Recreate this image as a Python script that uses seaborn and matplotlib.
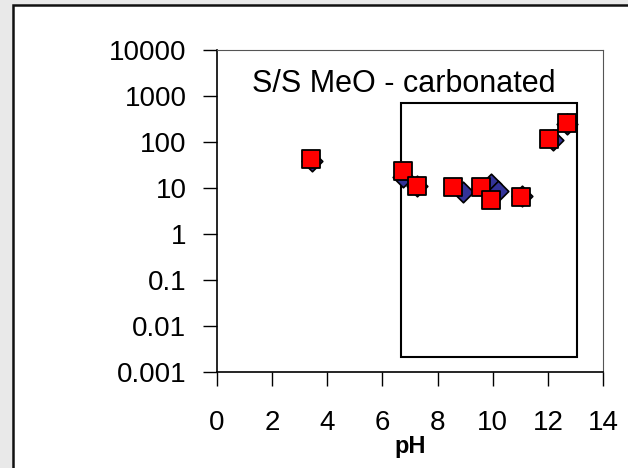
import numpy as np
import pandas as pd
import matplotlib
matplotlib.use('Agg')
import matplotlib.pyplot as plt
from matplotlib.patches import Rectangle
import seaborn as sns

# values
ph_diamond = [3.46, 6.75, 7.25, 8.92, 9.94, 10.19, 11.06, 12.19, 12.69]
conc_diamond = [38, 17, 11, 8.2, 12.2, 8.6, 6.7, 110, 250]
ph_square = [3.41, 6.75, 7.25, 8.57, 9.58, 9.95, 11.03, 12.05, 12.69]
conc_square = [42, 23, 11.3, 10.4, 10.4, 5.6, 6.3, 114, 255]

y_ticks = [0.001, 0.01, 0.1, 1, 10, 100, 1000, 10000]
y_ticklabels = ['0.001', '0.01', '0.1', '1', '10', '100', '1000', '10000']
x_ticks = [0, 2, 4, 6, 8, 10, 12, 14]

box_ph = (6.67, 13.06)
box_conc = (0.00215, 714)

df_d = pd.DataFrame({'pH': ph_diamond, 'conc': conc_diamond})
df_s = pd.DataFrame({'pH': ph_square, 'conc': conc_square})

sns.set_style('white')
plt.rcParams['font.family'] = ['Liberation Sans', 'DejaVu Sans']
plt.rcParams['text.color'] = 'black'
plt.rcParams['axes.labelcolor'] = 'black'
plt.rcParams['xtick.color'] = 'black'
plt.rcParams['ytick.color'] = 'black'

fig = plt.figure(figsize=(6.28, 4.68), dpi=100)
fig.patch.set_facecolor('#e9e9e9')
# white panel with dark border
fig.patches.append(Rectangle((13/628, -0.1), 1.2, (468-5)/468 + 0.1,
                             transform=fig.transFigure, facecolor='white',
                             edgecolor='#111111', linewidth=1.8, zorder=-10))

ax = fig.add_axes([217/628, 1-372/468, (603-217)/628, (372-50)/468])
ax.set_facecolor('white')

sns.scatterplot(data=df_d, x='pH', y='conc', marker='D', s=110, color='#333399',
                edgecolor='black', linewidth=1.2, ax=ax, zorder=3)
sns.scatterplot(data=df_s, x='pH', y='conc', marker='s', s=165, color='#ff0000',
                edgecolor='black', linewidth=1.3, ax=ax, zorder=4)

ax.set_yscale('log')
ax.set_xlim(0, 14)
ax.set_ylim(0.001, 10000)
ax.set_xticks(x_ticks)
ax.set_xticklabels([str(v) for v in x_ticks])
ax.set_yticks(y_ticks)
ax.set_yticklabels(y_ticklabels)
ax.yaxis.set_minor_locator(matplotlib.ticker.NullLocator())

ax.tick_params(axis='both', which='major', direction='out', length=10, width=1,
               color='black', labelcolor='black', labelsize=20)
ax.tick_params(axis='x', pad=17)
ax.tick_params(axis='y', pad=12)
ax.tick_params(left=True, bottom=True)

for s in ['left', 'bottom']:
    ax.spines[s].set_color('black')
    ax.spines[s].set_linewidth(1.2)
for s in ['top', 'right']:
    ax.spines[s].set_color('#555555')
    ax.spines[s].set_linewidth(0.8)

ax.set_xlabel('pH', fontsize=17, fontweight='bold', labelpad=0, color='black')
ax.set_ylabel('')

ax.add_patch(Rectangle((box_ph[0], box_conc[0]), box_ph[1]-box_ph[0], box_conc[1]-box_conc[0],
                       facecolor='none', edgecolor='black', linewidth=1.5, zorder=2))

ax.text(0.0907, 0.8696, 'S/S MeO - carbonated', transform=ax.transAxes,
        fontsize=22, ha='left', va='baseline', color='black')

fig.savefig('out.png', dpi=100, facecolor=fig.get_facecolor())
